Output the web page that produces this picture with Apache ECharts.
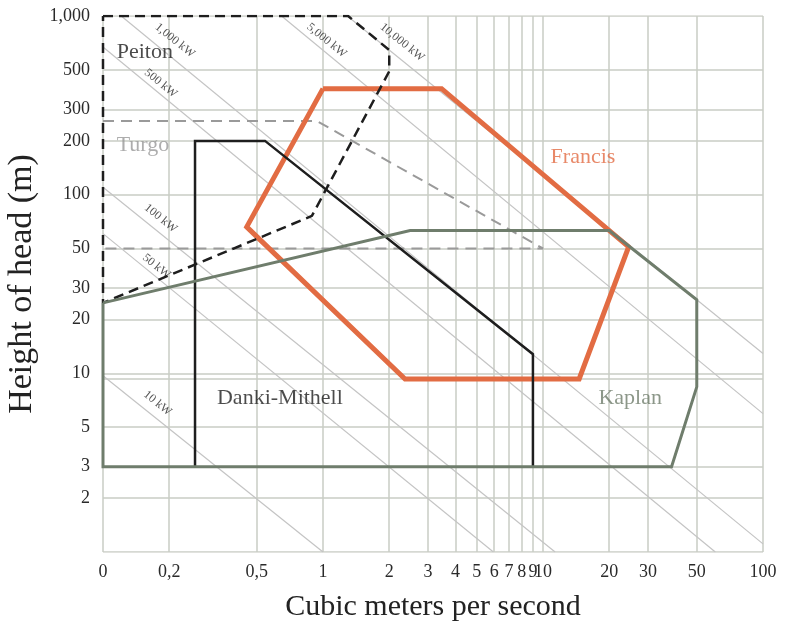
<!DOCTYPE html>
<html>
<head>
<meta charset="utf-8">
<script src="https://cdn.jsdelivr.net/npm/echarts@6/dist/echarts.min.js"></script>
<style>
  html, body { margin: 0; padding: 0; background: #fff; }
  #chart { width: 789px; height: 624px; }
</style>
</head>
<body>
<div id="chart"></div>
<script>
// ---- axis ticks / grid values ----
const xTickValues = [0.1, 0.2, 0.5, 1, 2, 3, 4, 5, 6, 7, 8, 9, 10, 20, 30, 50, 100];
const yTickValues = [2, 3, 5, 10, 20, 30, 50, 100, 200, 300, 500, 1000];
const xGridValues = [0.1, 0.2, 0.5, 1, 2, 3, 4, 5, 6, 7, 8, 9, 10, 20, 30, 50, 100];
const yGridValues = [1, 2, 3, 5, 9.3, 10, 20, 30, 50, 100, 200, 300, 500, 1000];

// ---- constant power lines (kW) ----
const powerNames = ['10 kW', '50 kW', '100 kW', '500 kW', '1,000 kW', '5,000 kW', '10,000 kW'];
const powerStart = [[0.1, 9.7], [0.1, 60.5], [0.1, 110], [0.1, 670], [0.121, 1000], [0.648, 1000], [1.29, 1000]];
const powerEnd = [[1, 1], [5.95, 1], [11.35, 1], [60.7, 1], [100, 1.11], [100, 5.95], [100, 12.9]];
const powerLabelAt = [[0.177, 6.8], [0.175, 39.7], [0.183, 73.7], [0.183, 420], [0.212, 730], [1.04, 730], [2.29, 712]];

// ---- turbine application ranges [flow m3/s, head m] ----
const peiton = [[0.1, 1000], [1.3, 1000], [2, 645], [2, 490], [0.89, 76], [0.1, 24.8], [0.1, 1000]];
const turgo = [[0.1, 258], [0.94, 258], [10, 50], [0.1, 50]];
const francis = [[1.0, 392], [3.46, 392], [24.5, 51], [14.6, 9.3], [2.36, 9.3], [0.45, 66], [1.0, 392]];
const danki = [[0.262, 3], [0.262, 200], [0.545, 200], [9, 12.8], [9, 3]];
const kaplan = [[0.1, 24.8], [2.49, 63], [20, 63], [50, 25.8], [50, 8.4], [38.4, 3], [0.1, 3], [0.1, 24.8]];

const typeNames = ['Peiton', 'Turgo', 'Francis', 'Danki-Mithell', 'Kaplan'];
const typeLabelAt = [[0.155, 630], [0.152, 190], [15.2, 161], [0.637, 7.3], [24.9, 7.25]];
const typeColors = ['#1e1e1e', '#999999', '#e26c43', '#1e1e1e', '#6f7d6c'];

const FONT = 'Liberation Serif';

const gridLinesData = xGridValues.map(v => ({ coords: [[v, 1], [v, 1000]] }))
  .concat(yGridValues.map(v => ({ coords: [[0.1, v], [100, v]] })));
const powerLinesData = powerStart.map((s, i) => ({ coords: [s, powerEnd[i]] }));

const chart = echarts.init(document.getElementById('chart'), null, { renderer: 'canvas' });

chart.setOption({
  animation: false,
  backgroundColor: '#ffffff',
  grid: { left: 103, right: 26, top: 16, bottom: 72, containLabel: false, outerBoundsMode: 'none' },
  xAxis: {
    type: 'log', logBase: 10, min: 0.1, max: 100,
    name: 'Cubic meters per second', nameLocation: 'middle', nameGap: 40,
    nameTextStyle: { fontFamily: FONT, fontSize: 30, color: '#222' },
    axisLine: { show: false }, axisTick: { show: false }, splitLine: { show: false },
    axisLabel: {
      customValues: xTickValues,
      margin: 11, fontFamily: FONT, fontSize: 18, color: '#2a2a2a',
      formatter: v => (Math.abs(v - 0.1) < 1e-9 ? '0' : String(+v.toFixed(3)).replace('.', ','))
    }
  },
  yAxis: {
    type: 'log', logBase: 10, min: 1, max: 1000,
    name: 'Height of head (m)', nameLocation: 'middle', nameGap: 63, nameRotate: 90,
    nameTextStyle: { fontFamily: FONT, fontSize: 34, color: '#222' },
    axisLine: { show: false }, axisTick: { show: false }, splitLine: { show: false },
    axisLabel: {
      customValues: yTickValues,
      margin: 13, fontFamily: FONT, fontSize: 18, color: '#2a2a2a',
      formatter: v => (Math.abs(v - 1000) < 1e-6 ? '1,000' : String(Math.round(v)))
    }
  },
  series: [
    {
      type: 'lines', coordinateSystem: 'cartesian2d', silent: true, z: 1,
      data: gridLinesData,
      lineStyle: { color: '#c9ccc5', width: 1.5, opacity: 1 }
    },
    {
      type: 'lines', coordinateSystem: 'cartesian2d', silent: true, z: 2,
      data: powerLinesData,
      lineStyle: { color: '#c4c4c4', width: 1.2, opacity: 1 }
    },
    {
      type: 'scatter', silent: true, z: 3, symbolSize: 0,
      data: powerLabelAt.map((p, i) => ({ value: p, name: powerNames[i] })),
      label: {
        show: true, position: 'inside', rotate: -39,
        formatter: p => p.name, fontFamily: FONT, fontSize: 12, color: '#2a2a2a'
      }
    },
    {
      type: 'line', name: 'Turgo', data: turgo, showSymbol: false, silent: true, z: 4,
      lineStyle: { color: '#9a9a9a', width: 2, type: [11, 7] }
    },
    {
      type: 'line', name: 'Francis', data: francis, showSymbol: false, silent: true, z: 5,
      lineStyle: { color: '#e26c43', width: 5, join: 'miter', cap: 'butt' }
    },
    {
      type: 'line', name: 'Danki-Mithell', data: danki, showSymbol: false, silent: true, z: 6,
      lineStyle: { color: '#1e1e1e', width: 2.5, join: 'miter' }
    },
    {
      type: 'line', name: 'Peiton', data: peiton, showSymbol: false, silent: true, z: 7,
      lineStyle: { color: '#1e1e1e', width: 2.5, type: [10, 6] }
    },
    {
      type: 'line', name: 'Kaplan', data: kaplan, showSymbol: false, silent: true, z: 8,
      lineStyle: { color: '#6f7d6c', width: 3, join: 'miter' }
    },
    {
      type: 'scatter', silent: true, z: 9, symbolSize: 0,
      data: typeLabelAt.map((p, i) => ({
        value: p, name: typeNames[i],
        label: { color: typeColors[i] }
      })),
      label: {
        show: true, position: 'inside',
        formatter: p => p.name, fontFamily: FONT, fontSize: 22
      }
    }
  ]
});
</script>
</body>
</html>
